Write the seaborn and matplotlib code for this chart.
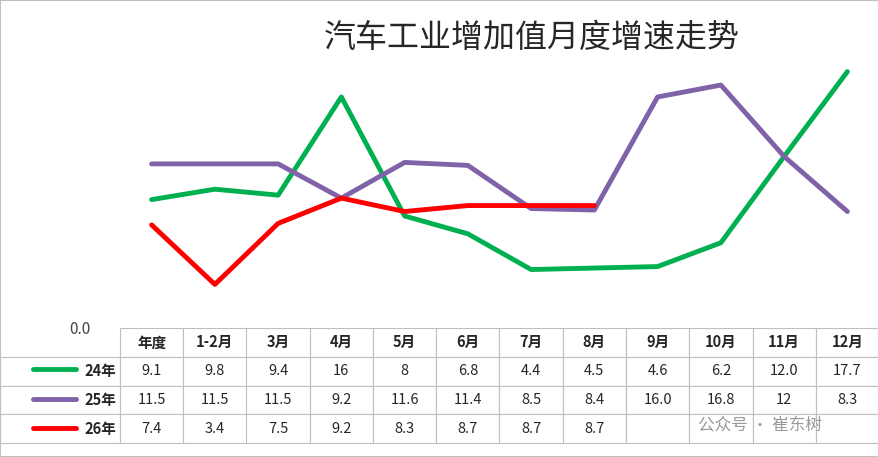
import matplotlib
matplotlib.use("Agg")
import matplotlib.pyplot as plt
import seaborn as sns
import pandas as pd

sns.set_style("white")
plt.rcParams['font.family'] = ['Noto Sans CJK SC', 'DejaVu Sans']

categories = ["年度", "1-2月", "3月", "4月", "5月", "6月", "7月", "8月", "9月", "10月", "11月", "12月"]
s24 = [9.1, 9.8, 9.4, 16, 8, 6.8, 4.4, 4.5, 4.6, 6.2, 12.0, 17.7]
s25 = [11.5, 11.5, 11.5, 9.2, 11.6, 11.4, 8.5, 8.4, 16.0, 16.8, 12, 8.3]
s26 = [7.4, 3.4, 7.5, 9.2, 8.3, 8.7, 8.7, 8.7]
lab24 = ["9.1", "9.8", "9.4", "16", "8", "6.8", "4.4", "4.5", "4.6", "6.2", "12.0", "17.7"]
lab25 = ["11.5", "11.5", "11.5", "9.2", "11.6", "11.4", "8.5", "8.4", "16.0", "16.8", "12", "8.3"]
lab26 = ["7.4", "3.4", "7.5", "9.2", "8.3", "8.7", "8.7", "8.7", "", "", "", ""]
names = ["24年", "25年", "26年"]
colors = ["#00B050", "#7F62A8", "#FF0000"]

W, H = 879, 457
fig = plt.figure(figsize=(W/100, H/100), dpi=100)
ax = fig.add_axes([120/W, (H-335)/H, 759/W, 305/H])

rows = []
for n, vals in zip(names, [s24, s25, s26]):
    for i, v in enumerate(vals):
        rows.append({"series": n, "x": i, "v": v})
df = pd.DataFrame(rows)
sns.lineplot(data=df, x="x", y="v", hue="series", palette=colors, linewidth=3.5,
             ax=ax, legend=False, sort=False)
ax.set_xlim(-0.5, 11.5)
ax.set_ylim(0, 20.5)
ax.set_xticks([]); ax.set_yticks([])
ax.set_xlabel(""); ax.set_ylabel("")
for s in ax.spines.values():
    s.set_visible(False)

fig.text(532/W, 1-38/H, "汽车工业增加值月度增速走势", fontsize=23, ha="center", va="center")
fig.text(80/W, 1-329/H, "0.0", fontsize=11, ha="center", va="center", color="#444444")

cell = [[""] + categories] + [[n] + l for n, l in zip(names, [lab24, lab25, lab26])]
tb = ax.table(cellText=cell, bbox=[-120/759, (335-443)/305, 879/759, 115/305], cellLoc="center")
tb.auto_set_font_size(False)
tb.set_fontsize(10.5)
for (r, c), ce in tb.get_celld().items():
    ce.set_edgecolor("#BFBFBF")
    ce.set_linewidth(0.8)
    if c == 0:
        ce.set_width(120/759)
    else:
        ce.set_width(759/759/12)
    if r == 0 and c == 0:
        ce.set_edgecolor("white")
    if r == 0 and c > 0:
        ce.get_text().set_fontweight("bold")
    if c == 0 and r > 0:
        ce.get_text().set_ha("right")
        ce.get_text().set_fontweight("bold")
        ce._loc = "right"
        ce.PAD = 0.03
for i, col in enumerate(colors):
    yy = 1 - (369 + i*29.5)/H
    fig.add_artist(plt.Line2D([33/W, 76/W], [yy, yy], color=col, lw=3.5, transform=fig.transFigure))

fig.add_artist(plt.Rectangle((0, 0), 1, 1, fill=False, edgecolor="#BFBFBF", lw=1.5, transform=fig.transFigure))
fig.text(760/W, 1-425/H, "公众号 · 崔东树", fontsize=12, ha="center", va="center", color="#999999")
fig.savefig("out.png", dpi=100)
